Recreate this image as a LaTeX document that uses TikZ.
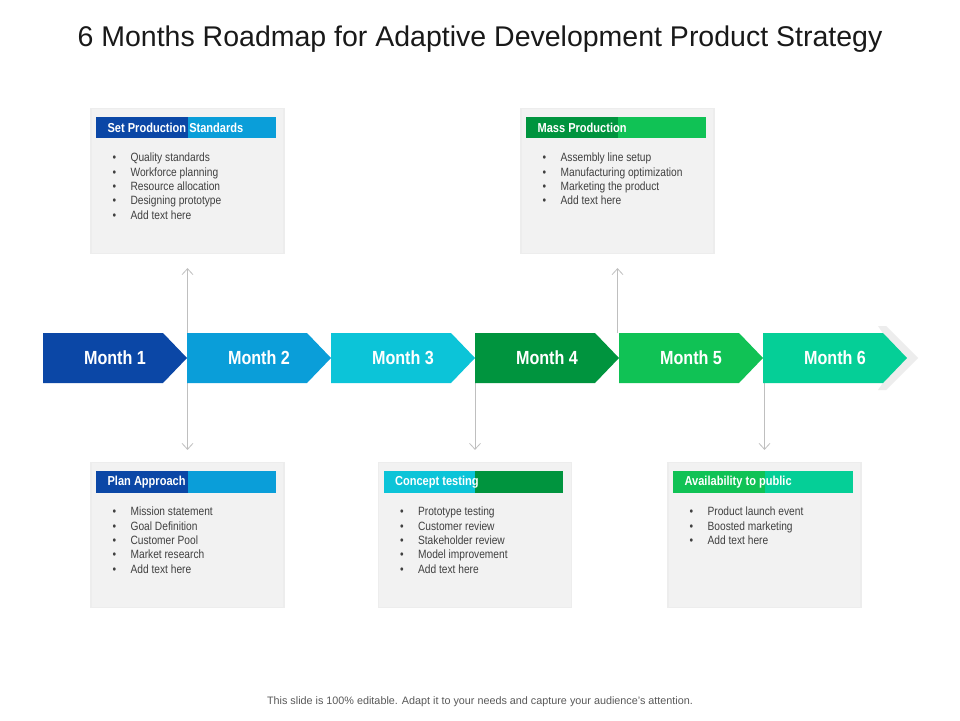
\documentclass[tikz,border=0pt]{standalone}
\usepackage{fontspec}
\setmainfont{Liberation Sans}
\newfontfamily\narrowfont[FakeStretch=0.85]{Liberation Sans}
\usetikzlibrary{positioning,arrows.meta}
\usepackage{xcolor}
\definecolor{monthone}{HTML}{0B47A6}
\definecolor{monthtwo}{HTML}{0A9ED9}
\definecolor{monththree}{HTML}{0CC4D8}
\definecolor{monthfour}{HTML}{00943E}
\definecolor{monthfive}{HTML}{10C255}
\definecolor{monthsix}{HTML}{05CF97}
\definecolor{panelgray}{HTML}{F2F2F2}
\definecolor{bodygray}{HTML}{404040}
\definecolor{linkgray}{HTML}{BFBFBF}

\tikzset{
  card/.style={fill=panelgray, draw=black!7, line width=1.2pt,
    minimum width=193pt, minimum height=145pt, inner sep=0pt},
  cardtitle/.style={anchor=west, inner sep=0pt, text=white,
    font=\narrowfont\bfseries\fontsize{13}{15}\selectfont},
  item/.style={anchor=base west, inner sep=0pt, text=bodygray,
    font=\narrowfont\fontsize{12}{14}\selectfont},
  monthlabel/.style={text=white, font=\narrowfont\bfseries\fontsize{19}{21}\selectfont},
  link/.style={draw=linkgray, line width=0.8pt, >={Straight Barb[length=6pt,width=11pt]}}
}

\begin{document}
\begin{tikzpicture}[x=1pt,y=-1pt]
  \useasboundingbox[fill=white] (0,0) rectangle (960,720);

  % Title
  \node[font=\fontsize{28.5}{32}\selectfont, text=black!90] (title) at (480,39)
    {6 Months Roadmap for Adaptive Development Product Strategy};

  % Band edges
  \coordinate (bandtop) at (0,333);
  \coordinate (bandbot) at (0,383);

  % Card A: Set Production Standards
  \node[card] (cardA) at (187.5,181) {};
  \fill[monthone] ([shift={(6,9)}]cardA.north west) rectangle ([shift={(0,30)}]cardA.north);
  \fill[monthtwo] ([shift={(0,9)}]cardA.north) rectangle ([shift={(-9,30)}]cardA.north east);
  \node[cardtitle] (cardA-title) at ([shift={(17,20)}]cardA.north west) {Set Production Standards};
  \foreach \t [count=\k] in {Quality standards, Workforce planning, Resource allocation,
      Designing prototype, Add text here}
    \node[item] (cardA-\k) at ([shift={(22,{54+14.3*(\k-1)})}]cardA.north west)
      {\makebox[18pt][l]{\textbullet}\t};

  % Card B: Mass Production
  \node[card] (cardB) at (617.5,181) {};
  \fill[monthfour] ([shift={(6,9)}]cardB.north west) rectangle ([shift={(0,30)}]cardB.north);
  \fill[monthfive] ([shift={(0,9)}]cardB.north) rectangle ([shift={(-9,30)}]cardB.north east);
  \node[cardtitle] (cardB-title) at ([shift={(17,20)}]cardB.north west) {Mass Production};
  \foreach \t [count=\k] in {Assembly line setup, Manufacturing optimization,
      Marketing the product, Add text here}
    \node[item] (cardB-\k) at ([shift={(22,{54+14.3*(\k-1)})}]cardB.north west)
      {\makebox[18pt][l]{\textbullet}\t};

  % Card C: Concept testing
  \node[card] (cardC) at (475,535) {};
  \fill[monththree] ([shift={(6,9)}]cardC.north west) rectangle ([shift={(0,31)}]cardC.north);
  \fill[monthfour] ([shift={(0,9)}]cardC.north) rectangle ([shift={(-9,31)}]cardC.north east);
  \node[cardtitle] (cardC-title) at ([shift={(17,20.5)}]cardC.north west) {Concept testing};
  \foreach \t [count=\k] in {Prototype testing, Customer review, Stakeholder review,
      Model improvement, Add text here}
    \node[item] (cardC-\k) at ([shift={(22,{54+14.3*(\k-1)})}]cardC.north west)
      {\makebox[18pt][l]{\textbullet}\t};

  % Card D: Plan Approach
  \node[card] (cardD) at (187.5,535) {};
  \fill[monthone] ([shift={(6,9)}]cardD.north west) rectangle ([shift={(0,31)}]cardD.north);
  \fill[monthtwo] ([shift={(0,9)}]cardD.north) rectangle ([shift={(-9,31)}]cardD.north east);
  \node[cardtitle] (cardD-title) at ([shift={(17,20.5)}]cardD.north west) {Plan Approach};
  \foreach \t [count=\k] in {Mission statement, Goal Definition, Customer Pool,
      Market research, Add text here}
    \node[item] (cardD-\k) at ([shift={(22,{54+14.3*(\k-1)})}]cardD.north west)
      {\makebox[18pt][l]{\textbullet}\t};

  % Card E: Availability to public
  \node[card] (cardE) at (764.5,535) {};
  \fill[monthfive] ([shift={(6,9)}]cardE.north west) rectangle ([shift={(0,31)}]cardE.north);
  \fill[monthsix] ([shift={(0,9)}]cardE.north) rectangle ([shift={(-9,31)}]cardE.north east);
  \node[cardtitle] (cardE-title) at ([shift={(17,20.5)}]cardE.north west) {Availability to public};
  \foreach \t [count=\k] in {Product launch event, Boosted marketing, Add text here}
    \node[item] (cardE-\k) at ([shift={(22,{54+14.3*(\k-1)})}]cardE.north west)
      {\makebox[18pt][l]{\textbullet}\t};

  % Connectors
  \draw[link, <->, shorten <=14pt, shorten >=12pt] (cardA.south) -- (cardD.north);
  \draw[link, ->, shorten >=14pt] (cardB.south |- bandtop) -- (cardB.south);
  \draw[link, ->, shorten >=12pt] (cardC.north |- bandbot) -- (cardC.north);
  \draw[link, ->, shorten >=12pt] (cardE.north |- bandbot) -- (cardE.north);

  % Month chevrons
  \fill[black!7] (878,326) -- (886,326) -- (918,358) -- (886,390) -- (878,390)
    -- (900,358) -- cycle;
  \foreach \col [count=\i] in {monthone,monthtwo,monththree,monthfour,monthfive,monthsix} {
    \fill[\col] ({43+144*(\i-1)},333) -- ++(120,0) -- ++(24,25) -- ++(-24,25)
      -- ++(-120,0) -- cycle;
    \node[monthlabel] (m\i) at ({115+144*(\i-1)},358) {Month \i};
  }

  % Footer
  \node[font=\fontsize{10.8}{13}\selectfont, text=black!65] (footer) at (480,702)
    {This slide is 100\% editable. Adapt it to your needs and capture your audience's attention.};
\end{tikzpicture}
\end{document}
